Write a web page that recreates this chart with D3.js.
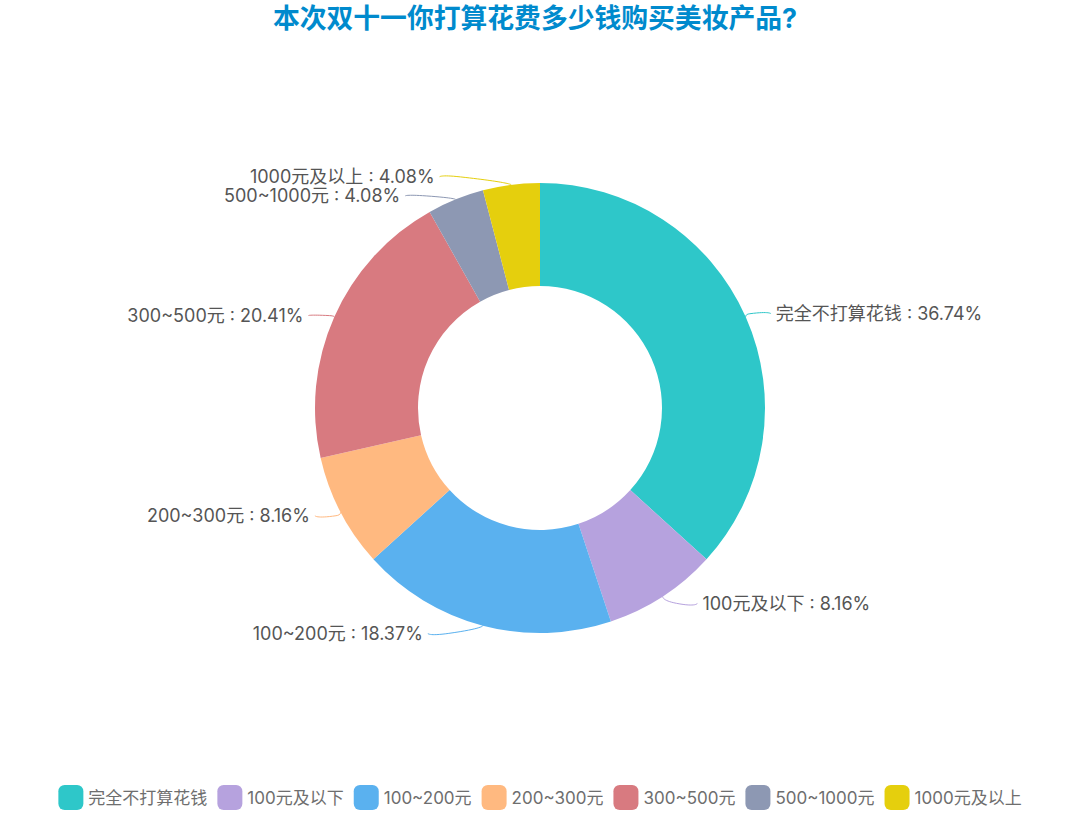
<!DOCTYPE html>
<html>
<head>
<meta charset="utf-8">
<script src="https://cdn.jsdelivr.net/npm/d3@7/dist/d3.min.js"></script>
<style>
  html, body { margin: 0; padding: 0; background: #ffffff; }
  svg { display: block; }
  text { font-family: "Inter", "Noto Sans CJK SC", "Noto Sans", sans-serif; }
</style>
</head>
<body>
<svg id="chart" width="1080" height="816"></svg>
<script>
// ---------------- data ----------------
const titleText = "本次双十一你打算花费多少钱购买美妆产品?";
const categories = ["完全不打算花钱", "100元及以下", "100~200元", "200~300元", "300~500元", "500~1000元", "1000元及以上"];
const percentValues = [36.74, 8.16, 18.37, 8.16, 20.41, 4.08, 4.08];
const palette = ["#2ec7c9", "#b6a2de", "#5ab1ef", "#ffb980", "#d87a80", "#8d98b3", "#e5cf0d"];

// ---------------- layout ----------------
const W = 1080, H = 816;
const cx = 540, cy = 408;
const rOuter = 225, rInner = 122;
const lineLen = 8, lineLen2 = 21, labelDistance = 5;
const labelFontSize = 18, labelHeight = 19;

const svg = d3.select("#chart");

// title
svg.append("text")
  .attr("class", "title")
  .attr("x", cx - 5).attr("y", 17.5)
  .attr("text-anchor", "middle")
  .attr("dominant-baseline", "central")
  .attr("font-size", 26.8).attr("font-weight", "bold")
  .attr("fill", "#008acd")
  .text(titleText);

const data = categories.map((c, i) => ({ name: c, value: percentValues[i], color: palette[i] }));

const pie = d3.pie().sort(null).value(d => d.value).startAngle(0).endAngle(2 * Math.PI);
const arcs = pie(data);
const arcGen = d3.arc().innerRadius(rInner).outerRadius(rOuter);

const g = svg.append("g");
g.selectAll("path.slice").data(arcs).enter().append("path")
  .attr("class", "slice")
  .attr("transform", `translate(${cx},${cy})`)
  .attr("d", arcGen)
  .attr("fill", d => d.data.color);

// ---------------- label layout (echarts-4 style) ----------------
const layouts = arcs.map(a => {
  const mid = (a.startAngle + a.endAngle) / 2;
  const dx = Math.sin(mid), dy = -Math.cos(mid);
  const x1 = cx + rOuter * dx, y1 = cy + rOuter * dy;
  const x2 = x1 + dx * lineLen, y2 = y1 + dy * lineLen;
  const dir = dx < 0 ? -1 : 1;
  const x3 = x2 + dir * lineLen2;
  return {
    d: a, dir, x: x3 + dir * labelDistance, y: y2, height: labelHeight,
    len: lineLen, len2: lineLen2, dist: x2 - x3,
    pts: [[x1, y1], [x2, y2], [x3, y2]],
    text: `${a.data.name} : ${a.data.value.toFixed(2)}%`
  };
});

function adjustSingleSide(list, dir) {
  list.sort((a, b) => a.y - b.y);
  const viewTop = 0, viewHeight = H;
  function shiftDown(start, end, delta) {
    for (let j = start; j < end; j++) {
      if (list[j].y + delta > viewTop + viewHeight) break;
      list[j].y += delta;
      if (j > start && j + 1 < end && list[j + 1].y > list[j].y + list[j].height) {
        shiftUp(j, delta / 2);
        return;
      }
    }
    shiftUp(end - 1, delta / 2);
  }
  function shiftUp(end, delta) {
    for (let j = end; j >= 0; j--) {
      if (list[j].y - delta < viewTop) break;
      list[j].y -= delta;
      if (j > 0 && list[j].y > list[j - 1].y + list[j - 1].height) break;
    }
  }
  function changeX(sub, isDown) {
    let last = isDown ? Number.MAX_VALUE : 0;
    for (const it of sub) {
      const deltaY = Math.abs(it.y - cy);
      let deltaX = deltaY < rOuter + it.len
        ? Math.sqrt(Math.pow(rOuter + it.len + it.len2, 2) - deltaY * deltaY)
        : Math.abs(it.x - cx);
      if (isDown && deltaX >= last) deltaX = last - 10;
      if (!isDown && deltaX <= last) deltaX = last + 10;
      it.x = cx + deltaX * dir;
      last = deltaX;
    }
  }
  let lastY = 0;
  const n = list.length;
  for (let i = 0; i < n; i++) {
    const delta = list[i].y - lastY;
    if (delta < 0) shiftDown(i, n, -delta);
    lastY = list[i].y + list[i].height;
  }
  if (viewHeight - lastY < 0) shiftUp(n - 1, lastY - viewHeight);
  const up = [], down = [];
  list.forEach(it => (it.y >= cy ? down : up).push(it));
  changeX(up, false);
  changeX(down, true);
}

adjustSingleSide(layouts.filter(l => l.dir < 0), -1);
adjustSingleSide(layouts.filter(l => l.dir > 0), 1);

layouts.forEach(l => {
  l.pts[2][0] = l.x - l.dir * labelDistance;
  l.pts[1][0] = l.pts[2][0] + l.dist;
  l.pts[1][1] = l.pts[2][1] = l.y;
});

// zrender-like smooth bezier polyline (smooth = 1)
function smoothPath(points, smooth) {
  const cps = [];
  for (let i = 0; i < points.length; i++) {
    const p = points[i];
    if (i === 0 || i === points.length - 1) { cps.push(p.slice()); continue; }
    const prev = points[i - 1], next = points[i + 1];
    const v = [(next[0] - prev[0]) * smooth, (next[1] - prev[1]) * smooth];
    let d0 = Math.hypot(p[0] - prev[0], p[1] - prev[1]);
    let d1 = Math.hypot(p[0] - next[0], p[1] - next[1]);
    const s = d0 + d1;
    if (s !== 0) { d0 /= s; d1 /= s; }
    cps.push([p[0] - v[0] * d0, p[1] - v[1] * d0]);
    cps.push([p[0] + v[0] * d1, p[1] + v[1] * d1]);
  }
  const path = d3.path();
  path.moveTo(points[0][0], points[0][1]);
  for (let i = 0; i < points.length - 1; i++) {
    const c1 = cps[i * 2], c2 = cps[i * 2 + 1], e = points[i + 1];
    path.bezierCurveTo(c1[0], c1[1], c2[0], c2[1], e[0], e[1]);
  }
  return path.toString();
}

g.selectAll("path.label-line").data(layouts).enter().append("path")
  .attr("class", "label-line")
  .attr("d", l => smoothPath(l.pts, 1))
  .attr("fill", "none")
  .attr("stroke", l => l.d.data.color)
  .attr("stroke-width", 1);

g.selectAll("text.label").data(layouts).enter().append("text")
  .attr("class", "label")
  .attr("x", l => l.x).attr("y", l => l.y)
  .attr("text-anchor", l => l.dir < 0 ? "end" : "start")
  .attr("dominant-baseline", "central")
  .attr("font-size", labelFontSize)
  .attr("fill", "#555555")
  .text(l => l.text);

// ---------------- legend ----------------
const legendFont = 17, iconSize = 25, iconTextGap = 5, itemGap = 10, legendCy = 797.5;
const legend = svg.append("g");
const items = legend.selectAll("g.item").data(data).enter().append("g").attr("class", "item");
items.append("rect")
  .attr("width", iconSize).attr("height", iconSize)
  .attr("rx", iconSize / 4).attr("ry", iconSize / 4)
  .attr("y", legendCy - iconSize / 2)
  .attr("fill", d => d.color);
items.append("text")
  .attr("x", iconSize + iconTextGap).attr("y", legendCy)
  .attr("dominant-baseline", "central")
  .attr("font-size", legendFont)
  .attr("fill", "#6e6e6e")
  .text(d => d.name);

const widths = [];
items.each(function () {
  widths.push(iconSize + iconTextGap + this.querySelector("text").getComputedTextLength());
});
const total = d3.sum(widths) + itemGap * (widths.length - 1);
let xCursor = W / 2 - total / 2;
items.each(function (d, i) {
  d3.select(this).attr("transform", `translate(${xCursor},0)`);
  xCursor += widths[i] + itemGap;
});
</script>
</body>
</html>
